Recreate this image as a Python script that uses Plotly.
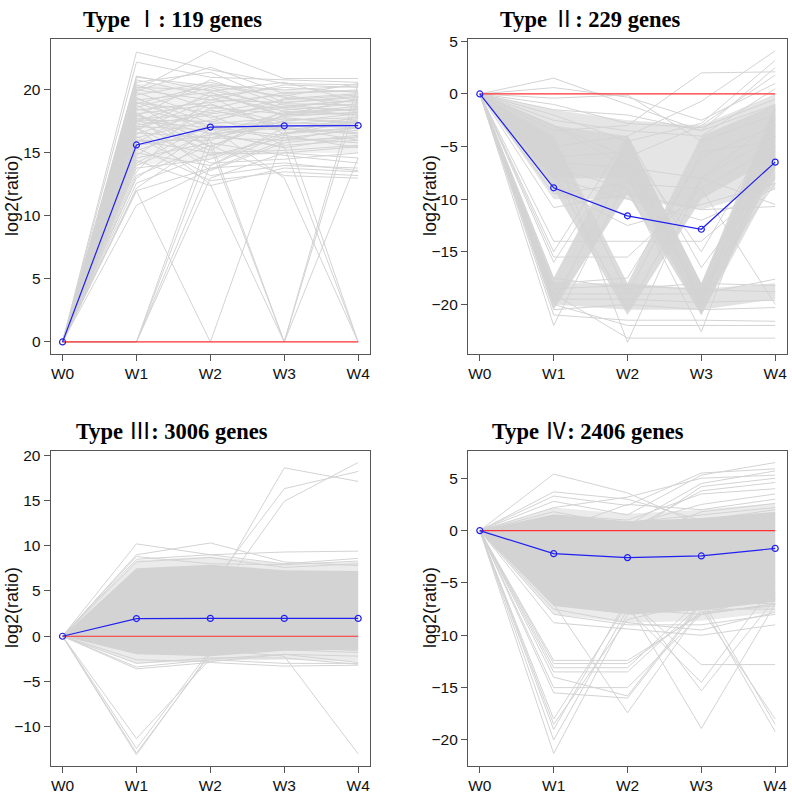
import plotly.graph_objects as go

# ---------------- data ----------------
weeks = ["W0", "W1", "W2", "W3", "W4"]
title_heads = ["Type ", "Type ", "Type ", "Type "]
title_numerals = ["Ⅰ", "Ⅱ", "Ⅲ", "Ⅳ"]
title_tails = [": 119 genes", ": 229 genes", ": 3006 genes", ": 2406 genes"]
zero_line = [0, 0, 0, 0, 0]

# mean expression profile of each type (blue)
type1_mean = [0, 15.63, 17.05, 17.15, 17.17]
type2_mean = [0, -8.92, -11.58, -12.86, -6.48]
type3_mean = [0, 1.95, 1.97, 1.97, 1.97]
type4_mean = [0, -2.2, -2.58, -2.42, -1.7]

# dense bundles of gene profiles (lower / upper envelope, coverage fraction)
type1_band_lower = [[0, 14.0, 14.5, 15.0, 15.0]]
type1_band_upper = [[0, 20.5, 20.5, 20.0, 20.0]]
type1_band_density = [0.3]

type2_band_lower = [
    [0, -10.0, -10.0, -11.0, -9.0],
    [0, -20.5, -9.5, -21.0, -7.0],
    [0, -9.0, -21.0, -10.0, -6.0],
    [0, -20.0, -20.5, -20.5, -19.5],
    [0, -8.0, -8.0, -21.0, -8.0],
]
type2_band_upper = [
    [0, -1.5, -2.5, -3.0, 0.0],
    [0, -17.5, -4.0, -18.0, -1.0],
    [0, -4.0, -18.0, -4.0, -1.0],
    [0, -18.0, -18.0, -18.5, -18.0],
    [0, -3.0, -4.0, -18.0, -2.0],
]
type2_band_density = [0.6, 0.85, 0.8, 0.65, 0.7]

type3_band_lower = [[0, -2.0, -2.2, -1.6, -1.5], [0, -3.0, -2.7, -2.6, -2.8]]
type3_band_upper = [[0, 7.5, 7.9, 7.3, 7.2], [0, 8.4, 8.8, 8.0, 8.2]]
type3_band_density = [1.0, 0.45]

type4_band_lower = [[0, -7.2, -8.0, -7.6, -6.8], [0, -8.0, -8.8, -8.6, -7.8]]
type4_band_upper = [[0, 1.5, 0.9, 1.2, 1.8], [0, 2.2, 1.6, 2.0, 2.6]]
type4_band_density = [1.0, 0.45]

# individual gene profiles (gray lines)
type1_genes = [
    [0, 23.0, 21.6, 20.5, 20.4], [0, 22.2, 21.0, 20.8, 20.6], [0, 20.0, 23.1, 20.9, 20.9],
    [0, 21.0, 20.3, 19.5, 20.5], [0, 20.8, 19.5, 20.2, 19.8], [0, 20.6, 21.4, 19.0, 19.5],
    [0, 20.4, 18.5, 19.8, 19.9], [0, 20.2, 20.0, 18.6, 19.2], [0, 20.0, 19.2, 20.4, 20.2],
    [0, 19.8, 17.8, 18.9, 18.8], [0, 19.6, 20.6, 19.4, 19.0], [0, 19.4, 16.5, 18.2, 18.5],
    [0, 19.2, 19.8, 17.9, 18.2], [0, 19.0, 18.2, 19.2, 19.6], [0, 18.8, 15.5, 17.6, 17.8],
    [0, 18.6, 20.2, 18.5, 18.0], [0, 18.5, 17.2, 16.8, 17.5], [0, 18.4, 19.0, 19.6, 18.6],
    [0, 18.2, 14.8, 16.2, 16.8], [0, 18.1, 18.8, 17.4, 17.2], [0, 18.0, 16.0, 18.0, 19.3],
    [0, 17.9, 20.8, 18.8, 18.3], [0, 17.8, 13.6, 15.8, 16.4], [0, 17.6, 17.5, 17.0, 16.6],
    [0, 17.5, 19.5, 16.5, 17.9], [0, 17.4, 15.2, 18.4, 18.9], [0, 17.2, 18.0, 15.6, 16.0],
    [0, 17.1, 16.8, 17.7, 17.4], [0, 17.0, 14.2, 14.5, 15.0], [0, 16.8, 19.2, 19.0, 19.4],
    [0, 16.6, 16.2, 16.0, 16.2], [0, 16.5, 18.4, 17.2, 17.0], [0, 16.3, 13.2, 14.0, 13.8],
    [0, 16.2, 17.6, 18.6, 18.4], [0, 16.0, 15.0, 15.2, 15.6], [0, 15.8, 18.9, 16.9, 16.5],
    [0, 15.6, 16.4, 17.5, 18.1], [0, 15.4, 12.8, 13.5, 13.2], [0, 15.2, 17.0, 16.4, 15.4],
    [0, 15.0, 14.0, 17.0, 17.6], [0, 14.8, 18.6, 18.1, 18.7], [0, 14.6, 15.8, 14.8, 14.2],
    [0, 14.4, 12.4, 13.8, 13.5], [0, 14.2, 17.3, 17.8, 17.3], [0, 14.0, 16.6, 15.4, 16.3],
    [0, 13.8, 14.5, 16.6, 17.0], [0, 13.5, 19.6, 18.3, 18.0], [0, 13.2, 15.6, 13.2, 13.0],
    [0, 13.0, 16.9, 16.2, 15.8], [0, 12.6, 14.9, 15.0, 14.6], [0, 12.2, 16.2, 17.3, 17.7],
    [0, 12.0, 13.8, 14.2, 13.6], [0, 19.9, 21.8, 19.7, 20.0], [0, 21.1, 19.9, 20.6, 19.1],
    [0, 18.9, 20.4, 20.0, 20.3], [0, 19.3, 17.4, 19.3, 19.7], [0, 17.7, 18.1, 18.7, 19.2],
    [0, 16.9, 19.8, 18.0, 18.2],
    [0, 0, 14.0, 16.5, 17.0], [0, 0, 15.5, 18.0, 18.5], [0, 0, 16.5, 17.0, 16.0],
    [0, 0, 13.0, 15.0, 15.5], [0, 12.0, 0, 16.5, 17.5], [0, 17.0, 12.5, 0, 14.6],
    [0, 18.0, 15.5, 0, 19.5], [0, 16.0, 16.0, 0, 20.5], [0, 19.0, 17.0, 13.0, 0],
    [0, 18.0, 16.5, 15.5, 0], [0, 17.5, 17.0, 17.0, 0], [0, 10.85, 13.7, 16.0, 17.0],
]

type2_genes = [
    [0, 1.5, -1.0, -3.5, -1.0], [0, 0.6, -0.3, -2.5, 1.0], [0, -0.4, -0.1, -4.5, -2.0],
    [0, -3.5, -3.0, 2.0, 2.1], [0, -5.0, -4.0, -0.7, 4.1], [0, -2.0, -4.5, -2.8, 3.2],
    [0, -1.5, -2.0, -3.5, 2.5], [0, -2.5, -3.5, -4.0, 0.5], [0, -1.0, -2.8, -3.2, -0.5],
    [0, -3.0, -6.0, -3.0, 1.8], [0, -6.5, -7.0, -8.0, -10.5], [0, -10.8, -9.5, -11.0, -10.7],
    [0, -9.0, -12.5, -10.5, -8.5], [0, -8.0, -10.0, -12.0, -9.0], [0, -14.0, -14.0, -14.0, -8.0],
    [0, -15.5, -15.5, -9.0, -5.0], [0, -16.0, -5.0, -15.0, -3.0], [0, -15.0, -4.0, -16.5, -7.0],
    [0, -22.0, -8.0, -19.0, -5.0], [0, -19.0, -23.2, -23.2, -23.2], [0, -5.0, -23.6, -8.0, -4.0],
    [0, -21.0, -21.5, -21.5, -21.6], [0, -20.0, -22.0, -22.0, -22.0], [0, -7.0, -9.0, -22.6, -4.0],
    [0, -20.5, -20.0, -20.5, -20.3], [0, -19.0, -19.0, -19.0, -17.6], [0, -18.5, -18.2, -18.6, -18.8],
    [0, -19.5, -19.5, -19.8, -19.6], [0, -17.5, -18.5, -18.0, -18.2], [0, -18.0, -17.5, -6.0, -3.0],
    [0, -19.8, -6.5, -19.5, -6.0], [0, -4.5, -19.0, -5.5, -4.5], [0, -7.5, -20.5, -8.0, -2.5],
    [0, -6.0, -5.5, -20.0, -1.5], [0, -3.0, -7.0, -18.5, -8.5], [0, -9.5, -8.5, -9.0, -20.0],
]

type3_genes = [
    [0, 10.2, 9.0, 8.0, 8.6], [0, 9.0, 10.3, 8.2, 7.8], [0, 8.5, 9.0, 9.3, 9.4],
    [0, 8.2, 8.7, 7.6, 8.0], [0, -12.9, -2.0, -1.5, -1.8], [0, -12.4, -1.5, -1.0, -1.2],
    [0, -11.3, -2.5, -2.0, -2.2], [0, -13.1, -1.8, -1.2, -1.6], [0, 3.0, 4.5, 18.6, 17.1],
    [0, 2.5, 5.5, 16.3, 18.2], [0, 4.0, 3.5, 14.9, 19.2], [0, -1.0, -1.5, -2.2, -13.0],
    [0, -3.6, -2.9, -3.3, -3.2], [0, -3.4, -2.6, -3.0, -3.0], [0, -3.0, -2.4, -2.4, -3.1],
    [0, -2.6, -2.8, -2.0, -2.9], [0, 8.8, 8.0, 7.9, 8.3],
]

type4_genes = [
    [0, 5.4, 3.6, 0.5, 1.5], [0, 3.7, 3.0, 1.0, 2.0], [0, 3.3, 2.4, 5.5, 5.9],
    [0, 2.8, 1.5, 5.3, 6.5], [0, 2.2, 3.2, 5.0, 5.3], [0, 1.8, 0.5, 4.5, 5.7],
    [0, 1.0, -0.5, 4.2, 5.0], [0, 0.5, 0.0, 3.8, 4.6], [0, 1.5, 1.0, 3.5, 4.0],
    [0, -1.0, 0.5, 2.5, 3.5], [0, 0.0, 2.5, 2.0, 3.0], [0, -2.0, -1.0, 1.8, 2.6],
    [0, 1.2, 0.8, 1.5, 2.2],
    [0, -21.3, -8.0, -7.5, -6.0], [0, -20.0, -7.5, -8.0, -7.0], [0, -19.0, -6.5, -7.0, -6.5],
    [0, -18.5, -8.5, -6.8, -5.5], [0, -18.0, -7.0, -7.2, -6.2], [0, -15.5, -16.0, -7.0, -6.0],
    [0, -15.0, -15.0, -8.0, -7.0], [0, -7.0, -17.4, -7.5, -7.5], [0, -13.5, -13.5, -7.0, -6.5],
    [0, -13.1, -13.1, -6.5, -6.8], [0, -12.7, -12.7, -7.8, -7.2], [0, -12.4, -12.4, -8.0, -6.0],
    [0, -14.0, -15.8, -6.8, -7.0], [0, -6.0, -7.0, -18.9, -7.0], [0, -5.5, -6.0, -15.3, -6.5],
    [0, -6.5, -7.5, -14.5, -5.0], [0, -5.0, -6.5, -12.8, -12.8], [0, -6.0, -7.5, -7.0, -19.2],
    [0, -5.5, -7.0, -6.5, -18.5], [0, -7.0, -6.0, -7.5, -18.0], [0, -8.8, -9.4, -10.0, -9.0],
    [0, -7.5, -8.8, -9.5, -7.8], [0, -8.0, -9.0, -9.0, -8.0],
]

# ---------------- figure ----------------
GRAY = "#D3D3D3"
AXC = "#555555"
W, H = 792, 794

panels = [
    (type1_mean, type1_genes, type1_band_lower, type1_band_upper, type1_band_density),
    (type2_mean, type2_genes, type2_band_lower, type2_band_upper, type2_band_density),
    (type3_mean, type3_genes, type3_band_lower, type3_band_upper, type3_band_density),
    (type4_mean, type4_genes, type4_band_lower, type4_band_upper, type4_band_density),
]

# panel boxes in pixels: (left, right, top, bottom)
boxes = [(50.7, 370, 33, 352), (468, 787, 33, 352), (50.7, 370, 450.3, 769.3), (468, 787, 450.3, 769.3)]
yranges = [(-0.92, 24.07), (-24.67, 5.26), (-14.29, 20.5), (-22.45, 7.64)]
yticks = [[0, 5, 10, 15, 20], [-20, -15, -10, -5, 0, 5], [-10, -5, 0, 5, 10, 15, 20], [-20, -15, -10, -5, 0, 5]]
title_pos = [(172, 14), (590, 14), (172, 431), (588, 431)]
ylab_x = [12, 430, 12, 430]

fig = go.Figure()
tickfont = dict(family="Liberation Sans, Arial", size=15.5, color="#111111")

for i, (mean, genes, lo, hi, dens) in enumerate(panels, start=1):
    xa = "x" if i == 1 else f"x{i}"
    ya = "y" if i == 1 else f"y{i}"
    for l, h, d in zip(lo, hi, dens):
        fig.add_trace(go.Scatter(
            x=weeks + weeks[::-1], y=h + l[::-1], fill="toself",
            fillcolor=f"rgba(211,211,211,{d})", line=dict(width=0), mode="lines",
            hoverinfo="skip", showlegend=False, xaxis=xa, yaxis=ya))
    xs, ys = [], []
    for g in genes:
        xs += weeks + [None]
        ys += g + [None]
    fig.add_trace(go.Scatter(x=xs, y=ys, mode="lines", line=dict(color=GRAY, width=1),
                             hoverinfo="skip", showlegend=False, xaxis=xa, yaxis=ya))
    fig.add_trace(go.Scatter(x=weeks, y=zero_line, mode="lines", line=dict(color="#FF3030", width=1.2),
                             hoverinfo="skip", showlegend=False, xaxis=xa, yaxis=ya))
    fig.add_trace(go.Scatter(x=weeks, y=mean, mode="lines+markers",
                             line=dict(color="#2020F0", width=1.2),
                             marker=dict(symbol="circle-open", size=6, color="#2020F0", line=dict(width=1.2)),
                             showlegend=False, xaxis=xa, yaxis=ya))

    L, R, T, B = boxes[i - 1]
    common = dict(showline=True, mirror=True, linecolor=AXC, linewidth=1.2, ticks="outside",
                  ticklen=6, tickcolor=AXC, tickwidth=1, tickfont=tickfont,
                  showgrid=False, zeroline=False)
    fig.update_layout(**{
        f"xaxis{'' if i == 1 else i}": dict(domain=[L / W, R / W], anchor=ya, type="category",
                                            categoryorder="array", categoryarray=weeks,
                                            range=[-0.16, 4.16], **common),
        f"yaxis{'' if i == 1 else i}": dict(domain=[1 - B / H, 1 - T / H], anchor=xa,
                                            range=list(yranges[i - 1]), tickvals=yticks[i - 1],
                                            **common),
    })
    tx, ty = title_pos[i - 1]
    k = i - 1
    fig.add_annotation(x=tx / W, y=1 - ty / H, xref="paper", yref="paper",
                       text=f"<b>{title_heads[k]}</b>{title_numerals[k]}<b>{title_tails[k]}</b>",
                       showarrow=False,
                       font=dict(family="Liberation Serif, Times New Roman, Noto Sans CJK SC, serif",
                                 size=22.5, color="#000000"),
                       xanchor="center", yanchor="middle")
    fig.add_annotation(x=ylab_x[i - 1] / W, y=1 - (T + B) / 2 / H, xref="paper", yref="paper",
                       text="log2(ratio)", textangle=-90, showarrow=False,
                       font=dict(family="Liberation Sans, Arial", size=18, color="#111111"),
                       xanchor="center", yanchor="middle")

fig.update_layout(width=W, height=H, margin=dict(l=0, r=0, t=0, b=0),
                  paper_bgcolor="white", plot_bgcolor="white")
fig.write_html("out.html", config={"displayModeBar": False},
               post_script="document.body.style.margin='0';document.body.style.overflow='hidden';")
